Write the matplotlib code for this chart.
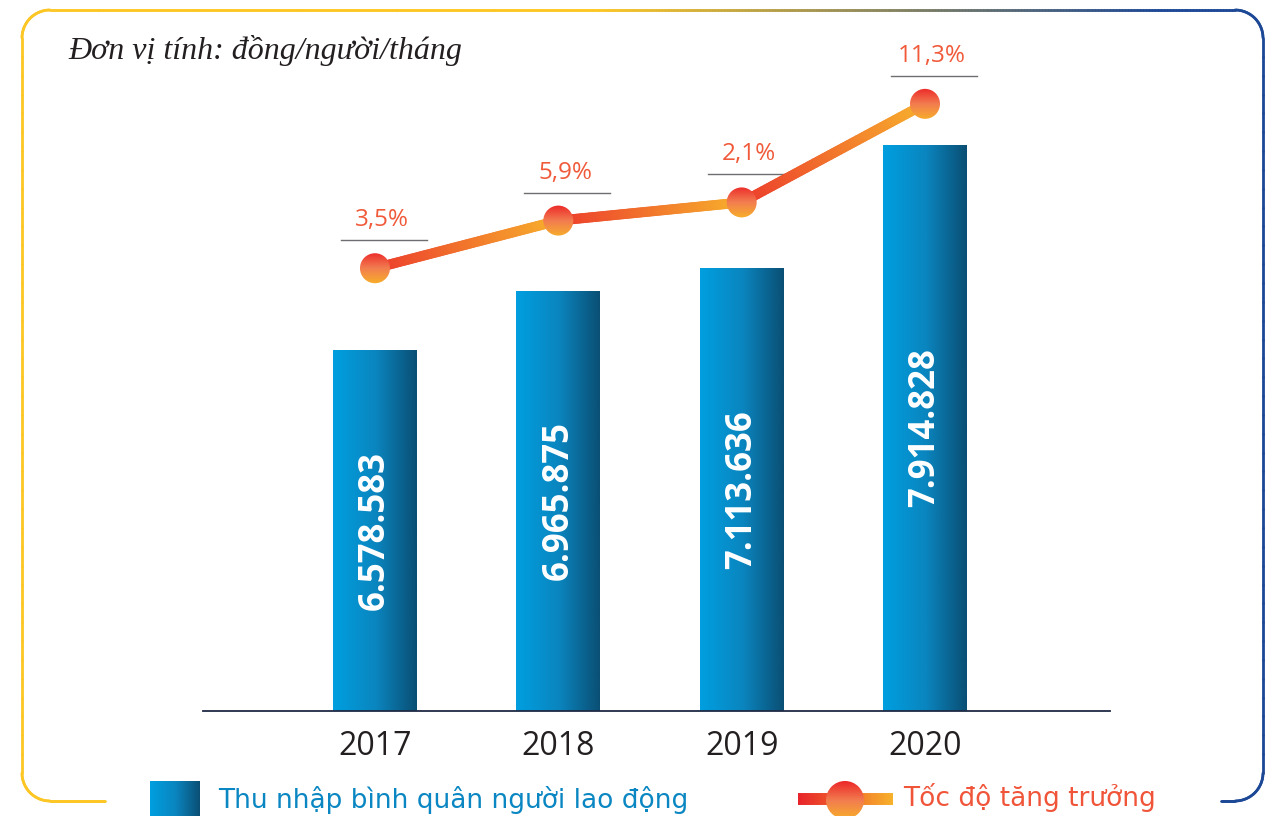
import numpy as np
import matplotlib
matplotlib.use("Agg")
import matplotlib.pyplot as plt
from matplotlib.colors import LinearSegmentedColormap, to_rgb
from matplotlib.collections import LineCollection
from matplotlib.patches import Circle
from matplotlib.lines import Line2D
import matplotlib.transforms as mtransforms

# ---------------- data ----------------
years = ["2017", "2018", "2019", "2020"]
income = [6578583, 6965875, 7113636, 7914828]
income_labels = ["6.578.583", "6.965.875", "7.113.636", "7.914.828"]
growth_labels = ["3,5%", "5,9%", "2,1%", "11,3%"]
title_text = "Đơn vị tính: đồng/người/tháng"
legend_bar_text = "Thu nhập bình quân người lao động"
legend_line_text = "Tốc độ tăng trưởng"

# ---------------- style ----------------
W, H, DPI = 1272, 816, 100
bar_cmap = LinearSegmentedColormap.from_list("bar", ["#009fe0", "#0a86c0", "#0a4f74"])
dot_cmap = LinearSegmentedColormap.from_list("dot", ["#ec2327", "#f27d50", "#f8b226"])
line_c0, line_c1 = "#ec3a2c", "#f7ae2c"
yellow, navy = np.array(to_rgb("#fcc624")), np.array(to_rgb("#1c4896"))

fig = plt.figure(figsize=(W / DPI, H / DPI), dpi=DPI)
fig.patch.set_facecolor("white")

# background axes in pixel coordinates (frame, title, legend)
bg = fig.add_axes([0, 0, 1, 1], zorder=0)
bg.set_xlim(0, W)
bg.set_ylim(H, 0)
bg.axis("off")

# main axes
ax_l, ax_r, ax_t, ax_b = 203, 1110, 40, 711
ax = fig.add_axes([ax_l / W, (H - ax_b) / H, (ax_r - ax_l) / W, (ax_b - ax_t) / H], zorder=2)
ax.patch.set_alpha(0)
ax2 = ax.twinx()
ax2.patch.set_alpha(0)

xpos = np.arange(len(years))
bar_w = 0.458
xlim = (-0.938, 4.009)
ylim_bar = (4.237e6, 8.594e6)
ylim_line = (2.979e6, 8.434e6)

bars = ax.bar(xpos, income, width=bar_w, color="none", edgecolor="none", zorder=2)
grad_h = np.linspace(0, 1, 256).reshape(1, -1)
for rect, v in zip(bars, income):
    x0 = rect.get_x()
    im = ax.imshow(grad_h, cmap=bar_cmap, aspect="auto", origin="upper",
                   extent=(x0, x0 + bar_w, ylim_bar[0], v), zorder=2)
    im.set_clip_path(rect)

ax.set_xlim(*xlim)
ax.set_ylim(*ylim_bar)
ax2.set_ylim(*ylim_line)
ax2.set_xlim(*xlim)

for x, v, lab in zip(xpos, income, income_labels):
    ax.text(x, (ylim_bar[0] + v) / 2, lab, rotation=90, ha="center", va="center",
            color="white", fontsize=25, fontweight="bold", family=["Open Sans", "DejaVu Sans"],
            zorder=4)

for side in ["left", "right", "top"]:
    ax.spines[side].set_visible(False)
    ax2.spines[side].set_visible(False)
ax2.spines["bottom"].set_visible(False)
ax.spines["bottom"].set_color("#1f2a44")
ax.spines["bottom"].set_linewidth(1.3)
ax.set_yticks([])
ax2.set_yticks([])
ax.set_xticks(xpos)
ax.set_xticklabels(years, fontsize=23, color="#231f20",
                   family=["Open Sans", "DejaVu Sans"])
ax.tick_params(axis="x", length=0, pad=14)

# gradient line through income (twin axis)
segs, cols = [], []
n_sub = 60
for i in range(len(income) - 1):
    xs = np.linspace(xpos[i], xpos[i + 1], n_sub + 1)
    ys = np.linspace(income[i], income[i + 1], n_sub + 1)
    c0, c1 = np.array(to_rgb(line_c0)), np.array(to_rgb(line_c1))
    for k in range(n_sub):
        t = k / (n_sub - 1)
        segs.append([(xs[k], ys[k]), (xs[k + 1], ys[k + 1])])
        cols.append(c0 * (1 - t) + c1 * t)
lc = LineCollection(segs, colors=cols, linewidths=7.2, capstyle="round", zorder=3)
ax2.add_collection(lc)
ax2.set_xlim(*xlim)
ax2.set_ylim(*ylim_line)

# gradient dots
grad_v = np.linspace(0, 1, 256).reshape(-1, 1)
r_dot = 15
inv2 = ax2.transData.inverted()
for x, v in zip(xpos, income):
    p = ax2.transData.transform((x, v))
    (xa, ya), (xb, yb) = inv2.transform([p - r_dot - 2, p + r_dot + 2])
    circ = Circle((0, 0), radius=r_dot, transform=mtransforms.ScaledTranslation(x, v, ax2.transData))
    im = ax2.imshow(grad_v, cmap=dot_cmap, aspect="auto", origin="upper",
                    extent=(xa, xb, ya, yb), zorder=5)
    im.set_clip_path(circ)
ax2.set_xlim(*xlim)
ax2.set_ylim(*ylim_line)

# growth labels with underline
for x, v, lab in zip(xpos, income, growth_labels):
    ax2.annotate(lab, xy=(x, v), xytext=(7, 48), textcoords="offset pixels",
                 ha="center", va="center", fontsize=17.5, color="#f05a3a",
                 family=["Open Sans", "DejaVu Sans"], zorder=6)
    ln = Line2D([-34, 52], [28, 28], color="#6d6e71", linewidth=1.0,
                transform=mtransforms.ScaledTranslation(x, v, ax2.transData))
    ax2.add_artist(ln)

# ---------------- frame ----------------
L, R, T, B, rad = 22, 1263, 10, 801, 28
def arc(cx, cy, a0, a1, n=30):
    a = np.radians(np.linspace(a0, a1, n))
    return np.column_stack([cx + rad * np.cos(a), cy - rad * np.sin(a)])
pts = np.vstack([
    np.column_stack([np.linspace(105, L + rad, 40), np.full(40, B)]),
    arc(L + rad, B - rad, 270, 180),
    np.column_stack([np.full(40, L), np.linspace(B - rad, T + rad, 40)]),
    arc(L + rad, T + rad, 180, 90),
    np.column_stack([np.linspace(L + rad, R - rad, 400), np.full(400, T)]),
    arc(R - rad, T + rad, 90, 0),
    np.column_stack([np.full(40, R), np.linspace(T + rad, B - rad, 40)]),
    arc(R - rad, B - rad, 0, -90),
    np.column_stack([np.linspace(R - rad, 1221, 20), np.full(20, B)]),
])
fsegs = np.stack([pts[:-1], pts[1:]], axis=1)
mid_x = fsegs[:, :, 0].mean(axis=1)
tt = np.clip((mid_x - 600) / 560, 0, 1)[:, None]
fcols = yellow * (1 - tt) + navy * tt
bg.add_collection(LineCollection(fsegs, colors=fcols, linewidths=2.0, capstyle="round"))

# title
bg.text(68, 51, title_text, fontsize=23, style="italic", family=["Liberation Serif", "DejaVu Serif"],
        color="#231f20", ha="left", va="center")

# ---------------- legend ----------------
im = bg.imshow(grad_h, cmap=bar_cmap, aspect="auto", origin="upper",
               extent=(150, 200, 830, 781), zorder=2)
bg.text(218, 800, legend_bar_text, fontsize=19, color="#0a87c2",
        family=["DejaVu Sans"], ha="left", va="center")

n_l = 60
lx = np.linspace(798, 893, n_l + 1)
lsegs = [[(lx[k], 799), (lx[k + 1], 799)] for k in range(n_l)]
lcols = [np.array(to_rgb("#e8242a")) * (1 - k / (n_l - 1)) + np.array(to_rgb("#f7b02a")) * (k / (n_l - 1))
         for k in range(n_l)]
bg.add_collection(LineCollection(lsegs, colors=lcols, linewidths=8.6, capstyle="butt", zorder=2))
lcirc = Circle((845, 800), radius=19, transform=bg.transData)
im = bg.imshow(grad_v, cmap=dot_cmap, aspect="auto", origin="upper",
               extent=(825, 865, 821, 780), zorder=3)
im.set_clip_path(lcirc)
bg.text(903, 798, legend_line_text, fontsize=19, color="#f0553a",
        family=["DejaVu Sans"], ha="left", va="center")

bg.set_xlim(0, W)
bg.set_ylim(H, 0)

fig.savefig("out.png", dpi=DPI)
